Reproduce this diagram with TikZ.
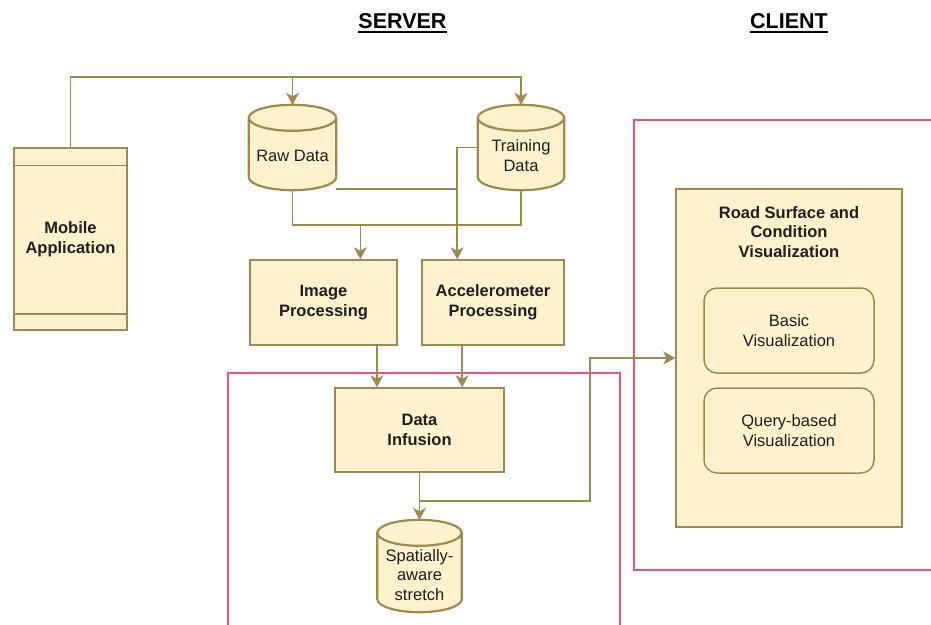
\documentclass[tikz,border=0pt]{standalone}
\usepackage{fontspec}
\setmainfont{Liberation Sans}
\usetikzlibrary{arrows.meta,calc}

\definecolor{boxfill}{HTML}{FFF2CC}
\definecolor{olive}{HTML}{9E8A4E}
\definecolor{tierpink}{HTML}{E6557E}
\definecolor{ink}{HTML}{1E1E1E}

\tikzset{
  block/.style={draw=olive, fill=boxfill, line width=1.5pt, inner sep=0pt,
    align=center, text=ink, font=\fontsize{16.5}{19.5}\selectfont\bfseries},
  subblock/.style={block, rounded corners=13pt,
    font=\fontsize{16.5}{19.5}\selectfont},
  dbslot/.style={inner sep=0pt, draw=none},
  dbtext/.style={inner sep=0pt, align=center, text=ink,
    font=\fontsize{16.5}{19.5}\selectfont},
  dbbody/.style={draw=olive, fill=boxfill, line width=2.2pt},
  flow/.style={draw=olive, line width=1.6pt},
  arr/.style={flow, -{Stealth[length=12pt,width=13pt,inset=3.5pt]}},
  tier/.style={draw=tierpink, line width=1.8pt},
  head/.style={inner sep=0pt, text=black, font=\fontsize{21.5}{24}\selectfont\bfseries},
}

% cylinder drawn inside the rectangle of a named slot node
\newcommand\dbdraw[1]{%
  \path let \p1=(#1.north west), \p2=(#1.south east),
            \n1={(\x2-\x1)/2} in
    [dbbody] (\x1,\y1-13pt) -- (\x1,\y2+13pt)
      arc[start angle=180, end angle=360, x radius=\n1, y radius=13pt]
      -- (\x2,\y1-13pt)
      arc[start angle=0, end angle=180, x radius=\n1, y radius=13pt] -- cycle
    (\x1,\y1-13pt)
      arc[start angle=180, end angle=360, x radius=\n1, y radius=13pt];%
}

\begin{document}
\begin{tikzpicture}[x=1pt, y=-1pt]
  \useasboundingbox (0,0) rectangle (931,624);
  \clip (0,0) rectangle (931,624);

  % tier frames
  \draw[tier] (228,373) rectangle (620,640);
  \draw[tier] (634,120) rectangle (945,570);

  % headings
  \node[head, anchor=base] (srv) at (402.5,28) {SERVER};
  \node[head, anchor=base] (cli) at (789,28) {CLIENT};
  \draw[line width=1.6pt] ($(srv.base west)+(0,4)$) -- ($(srv.base east)+(0,4)$);
  \draw[line width=1.6pt] ($(cli.base west)+(0,4)$) -- ($(cli.base east)+(0,4)$);

  % mobile application
  \node[block, minimum width=113pt, minimum height=182pt] (mob) at (70.5,239)
    {Mobile\\Application};
  \draw[draw=olive, line width=1.5pt]
    ($(mob.north west)+(0,18)$) -- ($(mob.north east)+(0,18)$)
    ($(mob.south west)+(0,-17)$) -- ($(mob.south east)+(0,-17)$);

  % data stores
  \node[dbslot, minimum width=87pt, minimum height=85pt] (raw) at (292.5,147.5) {};
  \node[dbslot, minimum width=86pt, minimum height=85pt] (train) at (521,147.5) {};
  \node[dbslot, minimum width=84pt, minimum height=92pt] (sp) at (419.5,566) {};
  \dbdraw{raw}
  \dbdraw{train}
  \dbdraw{sp}
  \node[dbtext] at ($(raw.center)+(0,8)$) {Raw Data};
  \node[dbtext] at ($(train.center)+(0,8)$) {Training\\Data};
  \node[dbtext] at ($(sp.center)+(0,9)$) {Spatially-\\aware\\stretch};

  % processing blocks
  \node[block, minimum width=147pt, minimum height=85pt] (img) at (323.5,302.5)
    {Image\\Processing};
  \node[block, minimum width=142pt, minimum height=85pt] (acc) at (493,302.5)
    {Accelerometer\\Processing};
  \node[block, minimum width=169pt, minimum height=84pt] (di) at (419.5,430)
    {Data\\Infusion};

  % client visualisation
  \node[block, minimum width=226pt, minimum height=338pt] (road) at (789,358) {};
  \node[inner sep=0pt, align=center, text=ink,
        font=\fontsize{16.5}{19.5}\selectfont\bfseries] (roadtitle) at (789,232)
    {Road Surface and\\Condition\\Visualization};
  \node[subblock, minimum width=170pt, minimum height=85pt] (basic) at (789,330.5)
    {Basic\\Visualization};
  \node[subblock, minimum width=170pt, minimum height=85pt] (query) at (789,430.5)
    {Query-based\\Visualization};

  % routing helpers
  \coordinate (topbus) at (0,77);
  \coordinate (mergebus) at (0,225);
  \coordinate (imgin) at ($(img.north west)!.748!(img.north east)$);
  \coordinate (accin) at ($(acc.north west)!.25!(acc.north east)$);
  \coordinate (dia) at ($(di.north west)!.25!(di.north east)$);
  \coordinate (dib) at ($(di.north west)!.75!(di.north east)$);
  \coordinate (tap) at ($(di.south)!.6!(sp.north)$);
  \coordinate (riser) at (590,0);

  % connectors
  \draw[arr] (mob.north) -- (mob.north |- topbus) -| (train.north);
  \draw[arr] (raw.north |- topbus) -- (raw.north);
  \draw[flow] (raw.south) -- (raw.south |- mergebus) -| (train.south);
  \draw[arr] (imgin |- mergebus) -- (imgin);
  \draw[flow] ($(raw.south east)+(0,-1)$) -- ($(raw.south east -| accin)+(0,-1)$);
  \draw[arr] (train.west) -| (accin);
  \draw[arr] (img.south -| dia) -- (dia);
  \draw[arr] (acc.south -| dib) -- (dib);
  \draw[arr] (di.south) -- (sp.north);
  \draw[arr] (tap) -| (riser |- road.west) -- (road.west);
\end{tikzpicture}
\end{document}
